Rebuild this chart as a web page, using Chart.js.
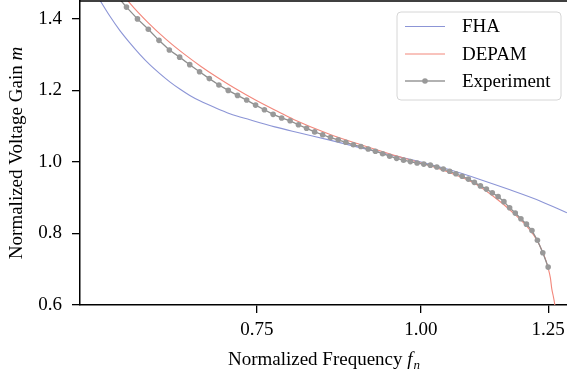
<!DOCTYPE html>
<html lang="en">
<head>
    <meta charset="UTF-8">
    <script src="https://cdn.jsdelivr.net/npm/chart.js"></script>
    <title>Normalized Voltage Gain</title>
    <style>
        body { margin: 0; background: #fff; }
    </style>
</head>
<body>
    <canvas id="chart" width="567" height="377"></canvas>
    <script>
        // FHA curve
        const fhaX = [0.5594, 0.5694, 0.5795, 0.5897, 0.6002, 0.6108, 0.6216, 0.6326, 0.6438, 0.6552, 0.6668,
                      0.6786, 0.6967, 0.7153, 0.7408, 0.774, 0.8088, 0.8525, 0.8985, 0.9471, 1.00,
                      1.0522, 1.1091, 1.169, 1.2322, 1.2919];
        const fhaY = [1.50, 1.453, 1.408, 1.368, 1.333, 1.301, 1.272, 1.247, 1.224, 1.204, 1.186,
                      1.171, 1.152, 1.135, 1.118, 1.098, 1.081, 1.061, 1.040, 1.020, 1.000,
                      0.978, 0.951, 0.922, 0.891, 0.858];

        // DEPAM curve
        const depamX = [0.59, 0.60, 0.62, 0.64, 0.66, 0.68, 0.70, 0.72, 0.75, 0.78, 0.80, 0.85, 0.90, 0.95, 1.00, 1.05, 1.10, 1.15, 1.18, 1.20, 1.22, 1.24, 1.25, 1.255, 1.258, 1.2616, 1.2635, 1.265, 1.266];
        const depamY = [1.48, 1.445, 1.389, 1.342, 1.302, 1.267, 1.236, 1.208, 1.171, 1.139, 1.119, 1.079, 1.048, 1.021, 0.997, 0.971, 0.939, 0.888, 0.852, 0.826, 0.793, 0.743, 0.703, 0.675, 0.645, 0.623, 0.610, 0.595, 0.570];

        // measured points
        const expX = [0.585, 0.5967, 0.6083, 0.62, 0.6317, 0.6433, 0.655, 0.6667, 0.6783, 0.69,
                      0.7017, 0.7133, 0.725, 0.7367, 0.7483, 0.76, 0.7717, 0.7833, 0.795, 0.8067,
                      0.8183, 0.83, 0.8417, 0.8533, 0.865, 0.8767, 0.8883, 0.9, 0.9117, 0.9233,
                      0.935, 0.9467, 0.9583, 0.97, 0.9817, 0.9933, 1.005, 1.0167, 1.0283, 1.04,
                      1.0517, 1.0633, 1.075, 1.0867, 1.0983, 1.11, 1.1217, 1.1333, 1.145, 1.1567,
                      1.1683, 1.18, 1.1917, 1.2033, 1.215, 1.2267, 1.2383, 1.25];
        const expY = [1.47, 1.433, 1.400, 1.371, 1.340, 1.313, 1.293, 1.272, 1.252, 1.233,
                      1.215, 1.200, 1.186, 1.173, 1.159, 1.146, 1.133, 1.123, 1.115, 1.104,
                      1.094, 1.084, 1.076, 1.068, 1.062, 1.055, 1.048, 1.043, 1.036, 1.030,
                      1.023, 1.016, 1.010, 1.005, 1.001, 0.997, 0.994, 0.991, 0.986, 0.980,
                      0.974, 0.967, 0.960, 0.952, 0.943, 0.933, 0.924, 0.914, 0.903, 0.889,
                      0.872, 0.857, 0.841, 0.826, 0.808, 0.781, 0.746, 0.706];

        const xTicks = [0.75, 1.00, 1.25];
        const yTicks = [0.6, 0.8, 1.0, 1.2, 1.4];

        const labels = ['FHA', 'DEPAM', 'Experiment'];
        const colors = ['#8c95d6', '#f2877b', '#999999'];

        const FONT = '"Liberation Serif", "Times New Roman", serif';

        function pairs(xs, ys) {
            return xs.map((x, i) => ({ x: x, y: ys[i] }));
        }

        // spines, axis titles with italics and the framed legend
        const extras = {
            id: 'extras',
            afterDraw(chart) {
                const ctx = chart.ctx;
                const a = chart.chartArea;
                ctx.save();

                ctx.strokeStyle = '#000';
                ctx.lineWidth = 1.5;
                ctx.beginPath();
                ctx.moveTo(a.left, a.top);
                ctx.lineTo(a.right, a.top);
                ctx.stroke();

                ctx.fillStyle = '#000';
                ctx.textBaseline = 'alphabetic';

                // x title
                const main = 'Normalized Frequency ';
                ctx.font = '19px ' + FONT;
                const w1 = ctx.measureText(main).width;
                ctx.font = 'italic 19px ' + FONT;
                const w2 = ctx.measureText('f').width;
                ctx.font = 'italic 13px ' + FONT;
                const w3 = ctx.measureText('n').width;
                let x0 = (a.left + a.right) / 2 - (w1 + w2 + w3) / 2;
                const by = 365;
                ctx.font = '19px ' + FONT;
                ctx.fillText(main, x0, by);
                ctx.font = 'italic 19px ' + FONT;
                ctx.fillText('f', x0 + w1, by);
                ctx.font = 'italic 13px ' + FONT;
                ctx.fillText('n', x0 + w1 + w2 + 1, by + 4);

                // y title
                const ym = 'Normalized Voltage Gain ';
                ctx.font = '19px ' + FONT;
                const v1 = ctx.measureText(ym).width;
                ctx.font = 'italic 19px ' + FONT;
                const v2 = ctx.measureText('m').width;
                ctx.save();
                ctx.translate(22, (a.top + a.bottom) / 2);
                ctx.rotate(-Math.PI / 2);
                const s0 = -(v1 + v2) / 2;
                ctx.font = '19px ' + FONT;
                ctx.fillText(ym, s0, 0);
                ctx.font = 'italic 19px ' + FONT;
                ctx.fillText('m', s0 + v1, 0);
                ctx.restore();

                // legend
                const bx = 397, bTop = 12, bw = 164, bh = 88, r = 4;
                ctx.beginPath();
                ctx.moveTo(bx + r, bTop);
                ctx.arcTo(bx + bw, bTop, bx + bw, bTop + bh, r);
                ctx.arcTo(bx + bw, bTop + bh, bx, bTop + bh, r);
                ctx.arcTo(bx, bTop + bh, bx, bTop, r);
                ctx.arcTo(bx, bTop, bx + bw, bTop, r);
                ctx.closePath();
                ctx.fillStyle = 'rgba(255,255,255,0.8)';
                ctx.fill();
                ctx.strokeStyle = '#d6d6d6';
                ctx.lineWidth = 1;
                ctx.stroke();

                const rows = [26.5, 54, 81];
                ctx.font = '19px ' + FONT;
                ctx.textBaseline = 'middle';
                labels.forEach((lab, i) => {
                    const ry = rows[i];
                    ctx.strokeStyle = colors[i];
                    ctx.lineWidth = i === 2 ? 1.3 : 1;
                    ctx.beginPath();
                    ctx.moveTo(405, ry);
                    ctx.lineTo(445, ry);
                    ctx.stroke();
                    if (i === 2) {
                        ctx.fillStyle = colors[i];
                        ctx.beginPath();
                        ctx.arc(425, ry, 2.8, 0, Math.PI * 2);
                        ctx.fill();
                    }
                    ctx.fillStyle = '#000';
                    ctx.fillText(lab, 462, ry + 1);
                });

                ctx.restore();
            }
        };

        const ctx = document.getElementById('chart');
        new Chart(ctx, {
            type: 'line',
            data: {
                datasets: [{
                    label: labels[0],
                    data: pairs(fhaX, fhaY),
                    borderColor: colors[0],
                    borderWidth: 1.1,
                    pointRadius: 0,
                    cubicInterpolationMode: 'monotone',
                    order: 3
                }, {
                    label: labels[1],
                    data: pairs(depamX, depamY),
                    borderColor: colors[1],
                    borderWidth: 1.1,
                    pointRadius: 0,
                    cubicInterpolationMode: 'monotone',
                    order: 2
                }, {
                    label: labels[2],
                    data: pairs(expX, expY),
                    borderColor: '#8e8e8e',
                    borderWidth: 1.3,
                    pointRadius: 2.8,
                    pointBackgroundColor: colors[2],
                    pointBorderWidth: 0,
                    tension: 0,
                    order: 1
                }]
            },
            options: {
                responsive: false,
                animation: false,
                layout: { autoPadding: false, padding: { top: 1, right: 0, left: 0, bottom: 0 } },
                plugins: {
                    legend: { display: false },
                    tooltip: { enabled: false }
                },
                scales: {
                    x: {
                        type: 'logarithmic',
                        min: 0.55,
                        max: 1.292,
                        afterBuildTicks: s => { s.ticks = xTicks.map(v => ({ value: v })); },
                        afterFit: s => { s.height = 72; s.paddingLeft = 0; s.paddingRight = 0; },
                        ticks: {
                            callback: v => Number(v).toFixed(2),
                            font: { family: FONT, size: 19 },
                            color: '#000',
                            padding: 6,
                            maxRotation: 0,
                            autoSkip: false
                        },
                        grid: { display: true, drawOnChartArea: false, tickLength: 8, color: '#000', lineWidth: 1.3 },
                        border: { display: true, color: '#000', width: 1.5 }
                    },
                    y: {
                        type: 'linear',
                        min: 0.6,
                        max: 1.45,
                        afterBuildTicks: s => { s.ticks = yTicks.map(v => ({ value: v })); },
                        afterFit: s => { s.width = 80; s.paddingTop = 0; s.paddingBottom = 0; },
                        ticks: {
                            callback: v => Number(v).toFixed(1),
                            font: { family: FONT, size: 19 },
                            color: '#000',
                            padding: 10
                        },
                        grid: { display: true, drawOnChartArea: false, tickLength: 8, color: '#000', lineWidth: 1.3 },
                        border: { display: true, color: '#000', width: 1.5 }
                    }
                }
            },
            plugins: [extras]
        });
    </script>
</body>
</html>
